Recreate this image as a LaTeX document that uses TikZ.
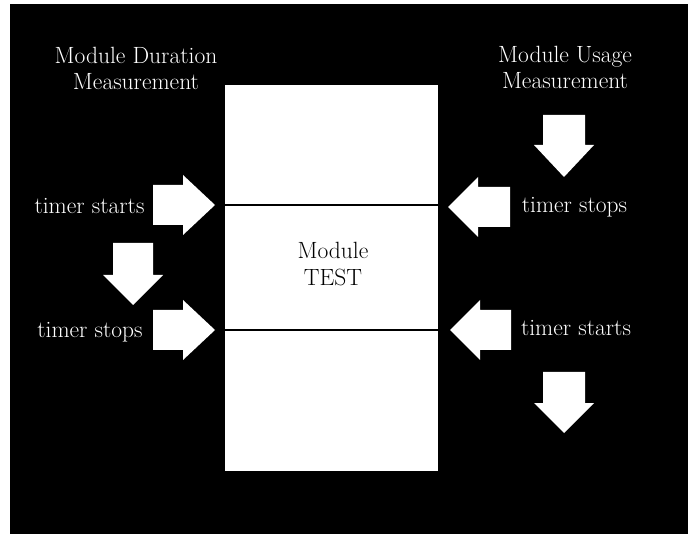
\documentclass[tikz,border=0pt]{standalone}
\usepackage{fontspec}
\usetikzlibrary{positioning}
\definecolor{slide}{RGB}{0,0,0}
\definecolor{paper}{RGB}{255,255,255}

\begin{document}
\begin{tikzpicture}[x=1pt,y=-1pt,
    caption/.style={text=paper,font=\fontsize{23.5}{25.5}\selectfont,align=center,inner sep=0pt},
    boxtext/.style={text=slide,font=\fontsize{23.5}{27}\selectfont,align=center,inner sep=0pt},
    blockarrow/.style={fill=paper}]
    \useasboundingbox (0,0) rectangle (696,534);
    \fill[slide] (10,4) rectangle (688,534);
    \node (box) [fill=paper,minimum width=213,minimum height=386,inner sep=0pt] at (331.5,278) {};
    \draw[line width=1.6pt,slide] (box.west |- 0,205) -- (box.east |- 0,205);
    \draw[line width=1.6pt,slide] (box.west |- 0,330) -- (box.east |- 0,330);
    \node (modtest) [boxtext,anchor=north] at (333,242) {Module\\TEST};
    \node (durtitle) [caption,anchor=north] at (136,47) {Module Duration\\Measurement};
    \node (usetitle) [caption,anchor=north] at (565,46) {Module Usage\\Measurement};
    \node (startl) [caption,anchor=base] at (89.5,214) {timer starts};
    \node (stopl) [caption,anchor=base] at (90,338) {timer stops};
    \node (stopr) [caption,anchor=base] at (574.5,213) {timer stops};
    \node (startr) [caption,anchor=base] at (576,336) {timer starts};
    % duration side
    \fill[blockarrow] (153,185) -- (183,185) -- (183,175) -- (215,205) -- (183,235) -- (183,225) -- (153,225) -- cycle;
    \fill[blockarrow] (113,243) -- (153,243) -- (153,275) -- (163,275) -- (133,305) -- (103,275) -- (113,275) -- cycle;
    \fill[blockarrow] (153,310) -- (183,310) -- (183,300) -- (215,330) -- (183,360) -- (183,350) -- (153,350) -- cycle;
    % usage side
    \fill[blockarrow] (543,115) -- (585,115) -- (585,145) -- (594,145) -- (564,177) -- (534,145) -- (543,145) -- cycle;
    \fill[blockarrow] (510,187) -- (478,187) -- (478,177) -- (448,207) -- (478,237) -- (478,227) -- (510,227) -- cycle;
    \fill[blockarrow] (511,310) -- (480,310) -- (480,300) -- (450,330) -- (480,360) -- (480,350) -- (511,350) -- cycle;
    \fill[blockarrow] (543,372) -- (585,372) -- (585,403) -- (594,403) -- (564,433) -- (534,403) -- (543,403) -- cycle;
    %\draw[red] (box.north west) rectangle (box.south east);
\end{tikzpicture}
\end{document}
